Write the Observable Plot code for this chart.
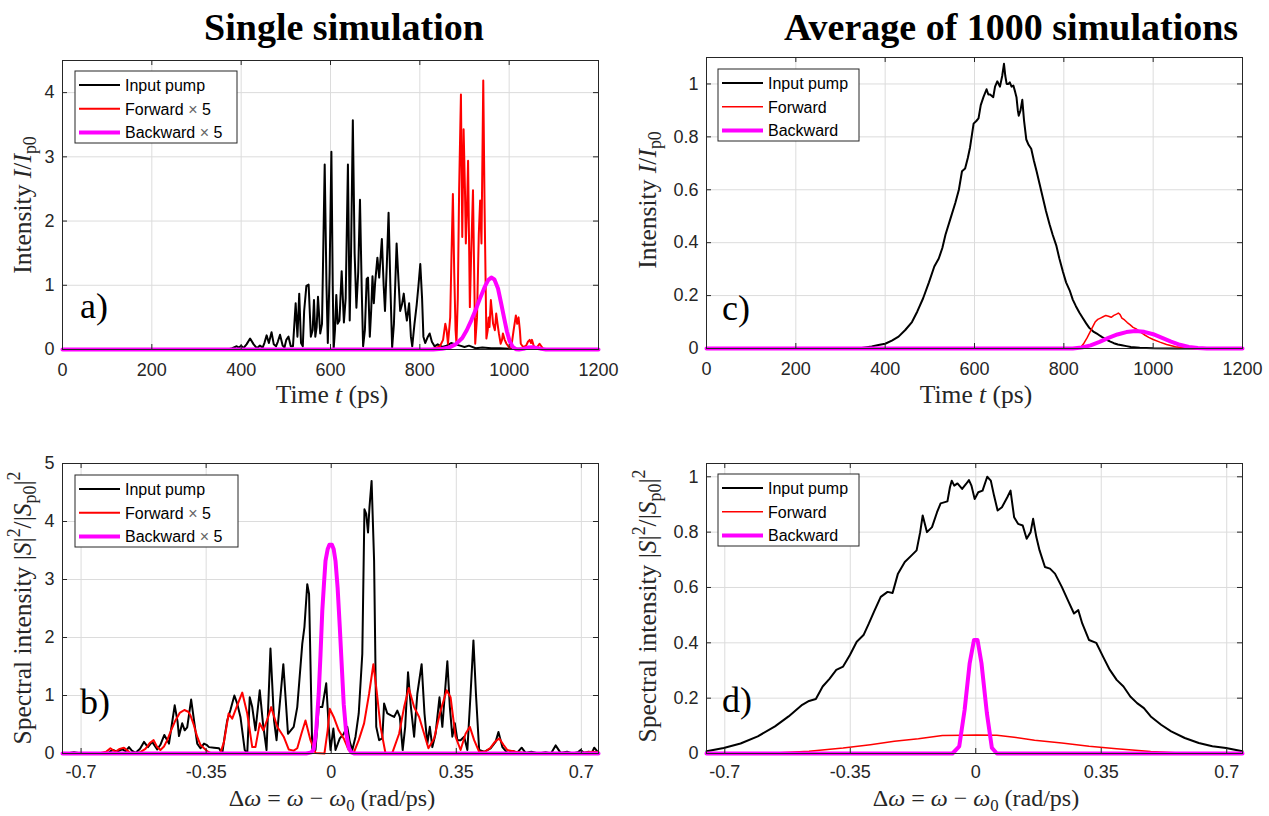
<!DOCTYPE html>
<html><head><meta charset="utf-8">
<script src="https://cdn.jsdelivr.net/npm/d3@7"></script>
<script src="https://cdn.jsdelivr.net/npm/@observablehq/plot@0.6"></script>
<style>
html,body{margin:0;padding:0;background:#fff;}
#root{position:relative;width:1269px;height:816px;overflow:hidden;background:#fff;}
</style></head><body><div id="root"></div>
<script>
// ---------- DATA ----------
const timeTicks = [0, 200, 400, 600, 800, 1000, 1200];
const freqTicks = [-0.7, -0.35, 0, 0.35, 0.7];
const intensityTicksA = [0, 1, 2, 3, 4];
const spectralTicksB = [0, 1, 2, 3, 4, 5];
const unitTicks = [0, 0.2, 0.4, 0.6, 0.8, 1];

// Panel a: single simulation, time domain  [t (ps), I/Ip0]
const pumpA = [[0,0],[370,0],[380,0.02],[390,0.05],[395,0.03],[400,0.06],[405,0.02],[412,0.08],[420,0.17],[428,0.08],[435,0.02],[442,0.06],[448,0.03],[452,0.1],[457,0.22],[462,0.1],[468,0.27],[473,0.08],[478,0.05],[482,0.12],[487,0.23],[493,0.06],[497,0.03],[501,0.15],[506,0.2],[511,0.05],[516,0.05],[522,0.72],[526,0.2],[530,0.87],[534,0.1],[538,0.05],[541,0.6],[546,0.99],[551,1.01],[556,0.2],[560,0.3],[563,0.77],[566,0.2],[569,0.35],[572,0.82],[577,0.25],[581,0.4],[587,2.88],[591,1.0],[594,0.1],[598,1.2],[602,3.08],[605,1.0],[607,0.0],[610,0.3],[613,0.85],[616,0.4],[620,0.45],[625,1.22],[630,0.42],[634,0.8],[639,2.88],[643,0.45],[646,1.5],[650,3.57],[654,1.5],[658,0.65],[662,1.2],[666,2.33],[670,0.9],[673,0.05],[677,0.3],[681,1.1],[684,1.12],[688,0.2],[691,0.6],[694,1.14],[697,0.72],[700,1.05],[705,1.43],[709,1.12],[715,1.72],[719,1.0],[722,0.6],[726,1.3],[730,2.13],[734,1.0],[738,0.03],[742,0.4],[748,1.65],[752,1.1],[756,0.6],[760,0.7],[764,0.87],[768,0.6],[771,0.45],[776,0.72],[780,0.2],[783,0.05],[788,0.4],[793,0.7],[797,1.0],[801,1.33],[805,0.8],[808,0.2],[812,0.1],[818,0.2],[822,0.25],[827,0.12],[833,0.05],[840,0.08],[850,0.04],[860,0.06],[870,0.1],[880,0.08],[890,0.06],[900,0.04],[910,0.06],[925,0.02],[940,0.03],[960,0.02],[980,0.02],[1000,0.01],[1050,0.01],[1100,0],[1200,0]];
const forwardA = [[0,0],[820,0],[835,0.02],[845,0.05],[852,0.15],[857,0.4],[860,0.3],[863,0.09],[868,0.5],[871,1.5],[874,2.42],[877,1.2],[880,0.3],[882,0.09],[885,0.8],[888,2.5],[892,3.97],[895,1.75],[898,3.43],[901,2.5],[903,1.65],[906,2.3],[908,2.94],[910,1.8],[912,0.66],[915,1.5],[919,2.48],[921,1.5],[924,0.09],[928,0.5],[932,1.8],[935,2.32],[938,1.65],[942,4.19],[945,2.2],[949,0.17],[952,0.3],[954,0.5],[956,0.35],[959,0.77],[962,0.55],[964,0.4],[968,0.3],[971,0.56],[974,0.4],[977,0.25],[981,0.09],[984,0.15],[986,0.25],[990,0.15],[994,0.09],[998,0.05],[1001,0.02],[1006,0.1],[1010,0.3],[1015,0.53],[1018,0.4],[1021,0.5],[1024,0.3],[1026,0.09],[1030,0.05],[1033,0.04],[1038,0.06],[1042,0.12],[1046,0.15],[1049,0.1],[1051,0.15],[1054,0.08],[1057,0.02],[1062,0.03],[1068,0.09],[1072,0.05],[1076,0.01],[1085,0],[1200,0]];
const backwardA = [[0,0],[830,0],[850,0.01],[865,0.03],[880,0.08],[895,0.18],[905,0.3],[915,0.45],[925,0.62],[935,0.8],[945,0.97],[953,1.08],[960,1.12],[967,1.09],[975,0.95],[982,0.72],[989,0.48],[995,0.28],[1001,0.13],[1008,0.04],[1015,0.005],[1022,0],[1032,0.01],[1042,0.03],[1052,0.035],[1062,0.025],[1072,0.01],[1082,0],[1200,0]];

// Panel b: single simulation, spectrum  [dw (rad/ps), |S|^2/|Sp0|^2]
const pumpB = [[-0.752,0.01],[-0.74,0.0],[-0.72,0.02],[-0.7,0.0],[-0.68,0.01],[-0.66,0.0],[-0.64,0.01],[-0.625,0.0],[-0.618,0.04],[-0.609,0.06],[-0.6,0.03],[-0.585,0.07],[-0.575,0.04],[-0.566,0.11],[-0.558,0.05],[-0.548,0.01],[-0.535,0.08],[-0.524,0.2],[-0.513,0.11],[-0.501,0.2],[-0.487,0.07],[-0.478,0.15],[-0.467,0.32],[-0.454,0.17],[-0.446,0.5],[-0.438,0.83],[-0.43,0.55],[-0.426,0.3],[-0.417,0.52],[-0.41,0.4],[-0.403,0.45],[-0.392,0.93],[-0.384,0.57],[-0.375,0.17],[-0.366,0.09],[-0.356,0.17],[-0.349,0.15],[-0.342,0.11],[-0.328,0.1],[-0.314,0.09],[-0.305,0.0],[-0.298,0.3],[-0.291,0.57],[-0.282,0.75],[-0.271,1.0],[-0.263,0.86],[-0.254,0.63],[-0.242,0.06],[-0.235,0.0],[-0.228,0.97],[-0.221,0.8],[-0.212,0.4],[-0.2,1.09],[-0.191,0.52],[-0.181,0.06],[-0.17,1.81],[-0.16,0.57],[-0.153,0.23],[-0.134,1.54],[-0.121,0.34],[-0.105,0.46],[-0.095,0.8],[-0.081,1.89],[-0.075,2.18],[-0.067,2.92],[-0.062,2.75],[-0.053,0.06],[-0.044,0.06],[-0.035,0.8],[-0.025,0.8],[-0.014,1.21],[-0.007,0.46],[-0.002,0.06],[0.006,0.43],[0.012,0.06],[0.024,0.26],[0.035,0.34],[0.045,0.46],[0.052,0.2],[0.059,0.06],[0.068,0.29],[0.077,0.69],[0.087,1.72],[0.093,4.21],[0.098,4.13],[0.103,3.81],[0.107,4.24],[0.113,4.7],[0.12,3.32],[0.126,0.46],[0.134,0.23],[0.143,0.26],[0.148,0.86],[0.157,0.69],[0.166,0.66],[0.176,0.63],[0.185,0.74],[0.192,0.63],[0.2,0.06],[0.207,0.46],[0.215,1.4],[0.222,0.86],[0.232,0.29],[0.241,1.03],[0.253,1.54],[0.261,0.69],[0.269,0.17],[0.276,0.46],[0.283,0.11],[0.292,0.34],[0.303,0.97],[0.311,0.46],[0.318,1.03],[0.325,1.59],[0.332,0.8],[0.339,0.29],[0.346,0.52],[0.353,0.23],[0.362,0.23],[0.372,0.29],[0.381,0.06],[0.39,1.03],[0.398,1.95],[0.405,1.03],[0.414,0.06],[0.428,0.03],[0.446,0.09],[0.46,0.2],[0.468,0.37],[0.479,0.11],[0.493,0.01],[0.51,0.04],[0.52,0.01],[0.533,0.1],[0.544,0.01],[0.56,0.03],[0.58,0.0],[0.6,0.02],[0.615,0.0],[0.628,0.14],[0.642,0.01],[0.66,0.03],[0.675,0.0],[0.69,0.02],[0.698,0.06],[0.708,0.01],[0.72,0.03],[0.73,0.02],[0.736,0.1],[0.748,0.01]];
const forwardB = [[-0.752,0],[-0.65,0],[-0.63,0.03],[-0.618,0.09],[-0.604,0.03],[-0.592,0.08],[-0.58,0.1],[-0.57,0.05],[-0.562,0.01],[-0.538,0.01],[-0.52,0.08],[-0.508,0.18],[-0.497,0.23],[-0.488,0.12],[-0.478,0.06],[-0.468,0.12],[-0.459,0.23],[-0.448,0.4],[-0.436,0.57],[-0.424,0.7],[-0.411,0.75],[-0.4,0.72],[-0.394,0.66],[-0.385,0.5],[-0.375,0.29],[-0.366,0.15],[-0.356,0.09],[-0.345,0.03],[-0.338,0.01],[-0.31,0.01],[-0.3,0.2],[-0.287,0.69],[-0.277,0.6],[-0.263,0.83],[-0.249,1.05],[-0.235,0.69],[-0.221,0.11],[-0.212,0.11],[-0.2,0.52],[-0.19,0.4],[-0.178,0.6],[-0.168,0.8],[-0.151,0.46],[-0.133,0.29],[-0.119,0.07],[-0.105,0.05],[-0.095,0.09],[-0.083,0.35],[-0.072,0.57],[-0.058,0.23],[-0.044,0.01],[-0.019,0],[-0.01,0.4],[-0.004,0.77],[0.007,0.63],[0.021,0.4],[0.035,0.26],[0.049,0.06],[0.063,0.01],[0.077,0.23],[0.092,0.52],[0.106,1.03],[0.118,1.54],[0.127,1.09],[0.138,0.46],[0.152,0],[0.171,0.01],[0.19,0.34],[0.204,0.8],[0.217,1.13],[0.232,0.8],[0.246,0.63],[0.26,0.34],[0.272,0.09],[0.288,0.26],[0.304,0.69],[0.323,1.09],[0.334,0.97],[0.348,0.29],[0.362,0.06],[0.376,0.34],[0.388,0.46],[0.4,0.23],[0.414,0.03],[0.43,0.03],[0.446,0.1],[0.458,0.2],[0.47,0.26],[0.482,0.15],[0.493,0.06],[0.516,0.03],[0.54,0.01],[0.6,0.0],[0.7,0.01],[0.73,0.03],[0.748,0.02]];
const backwardB = [[-0.752,0],[-0.07,0],[-0.055,0.02],[-0.049,0.08],[-0.042,0.4],[-0.035,1.03],[-0.03,1.7],[-0.025,2.46],[-0.02,2.95],[-0.016,3.32],[-0.01,3.52],[-0.005,3.6],[0.002,3.6],[0.007,3.52],[0.012,3.32],[0.018,2.85],[0.024,2.18],[0.03,1.45],[0.035,0.85],[0.042,0.35],[0.049,0.1],[0.056,0.02],[0.065,0],[0.748,0]];

// Panel c: average of 1000 simulations, time domain
const pumpC = [[0,0],[340,0],[355,0.004],[370,0.008],[385,0.013],[400,0.018],[415,0.03],[430,0.045],[445,0.07],[460,0.1],[472,0.14],[485,0.19],[498,0.25],[510,0.31],[520,0.34],[528,0.38],[535,0.43],[546,0.49],[557,0.55],[565,0.6],[572,0.67],[579,0.68],[585,0.72],[590,0.76],[598,0.85],[604,0.86],[609,0.87],[614,0.92],[620,0.95],[627,0.98],[631,0.96],[635,0.96],[642,0.95],[646,0.99],[651,1.01],[657,0.99],[662,1.03],[666,1.076],[669,1.03],[672,1.0],[676,1.0],[679,1.006],[683,0.99],[687,0.994],[691,0.97],[694,0.95],[697,0.9],[699,0.88],[703,0.9],[707,0.94],[711,0.86],[716,0.79],[721,0.77],[727,0.755],[733,0.71],[739,0.67],[746,0.62],[753,0.57],[760,0.52],[768,0.47],[775,0.43],[783,0.39],[790,0.34],[798,0.29],[805,0.25],[813,0.22],[820,0.185],[827,0.16],[835,0.135],[842,0.116],[850,0.095],[857,0.078],[866,0.064],[876,0.054],[885,0.044],[894,0.035],[903,0.027],[912,0.02],[921,0.015],[930,0.012],[940,0.009],[950,0.006],[970,0.003],[1000,0.001],[1050,0],[1200,0]];
const forwardC = [[0,0],[830,0],[838,0.005],[845,0.02],[852,0.04],[858,0.06],[864,0.08],[870,0.1],[876,0.11],[882,0.115],[888,0.12],[894,0.125],[900,0.122],[906,0.118],[912,0.125],[918,0.13],[922,0.134],[926,0.128],[930,0.115],[936,0.108],[942,0.098],[948,0.09],[955,0.08],[962,0.074],[970,0.064],[980,0.052],[990,0.042],[1000,0.034],[1015,0.024],[1030,0.015],[1050,0.007],[1070,0.002],[1090,0],[1200,0]];
const backwardC = [[0,0],[820,0],[840,0.004],[860,0.012],[880,0.025],[900,0.04],[920,0.053],[940,0.062],[960,0.066],[980,0.063],[1000,0.054],[1020,0.04],[1040,0.026],[1060,0.014],[1080,0.006],[1100,0.002],[1120,0],[1200,0]];

// Panel d: average of 1000 simulations, spectrum
const pumpD = [[-0.751,0.008],[-0.703,0.02],[-0.656,0.036],[-0.608,0.062],[-0.56,0.098],[-0.522,0.134],[-0.484,0.176],[-0.465,0.19],[-0.446,0.197],[-0.427,0.242],[-0.408,0.27],[-0.389,0.302],[-0.37,0.314],[-0.351,0.356],[-0.332,0.404],[-0.313,0.428],[-0.298,0.47],[-0.284,0.512],[-0.265,0.566],[-0.246,0.584],[-0.232,0.58],[-0.217,0.65],[-0.198,0.692],[-0.179,0.716],[-0.165,0.734],[-0.155,0.8],[-0.148,0.86],[-0.136,0.8],[-0.122,0.818],[-0.108,0.872],[-0.098,0.904],[-0.079,0.911],[-0.072,0.962],[-0.067,0.986],[-0.06,0.968],[-0.051,0.976],[-0.038,0.956],[-0.027,0.974],[-0.019,0.988],[-0.012,0.968],[-0.003,0.92],[0.007,0.944],[0.019,0.95],[0.032,1.0],[0.042,0.986],[0.051,0.932],[0.061,0.878],[0.073,0.89],[0.088,0.926],[0.097,0.95],[0.107,0.854],[0.118,0.83],[0.131,0.824],[0.142,0.776],[0.153,0.8],[0.16,0.848],[0.169,0.782],[0.178,0.734],[0.193,0.674],[0.207,0.668],[0.221,0.65],[0.24,0.602],[0.259,0.548],[0.274,0.506],[0.286,0.518],[0.297,0.47],[0.316,0.41],[0.336,0.4],[0.355,0.35],[0.374,0.302],[0.393,0.266],[0.412,0.242],[0.431,0.206],[0.45,0.182],[0.469,0.164],[0.488,0.134],[0.517,0.104],[0.545,0.08],[0.583,0.056],[0.622,0.038],[0.66,0.026],[0.698,0.02],[0.744,0.008]];
const forwardD = [[-0.751,0],[-0.56,0.002],[-0.465,0.008],[-0.37,0.02],[-0.294,0.032],[-0.227,0.044],[-0.16,0.053],[-0.093,0.065],[-0.036,0.066],[0.002,0.067],[0.059,0.066],[0.107,0.059],[0.164,0.048],[0.24,0.038],[0.316,0.026],[0.393,0.017],[0.488,0.007],[0.583,0.001],[0.744,0]];
const backwardD = [[-0.751,0],[-0.065,0],[-0.046,0.026],[-0.031,0.158],[-0.017,0.326],[-0.005,0.41],[0.005,0.41],[0.016,0.326],[0.031,0.146],[0.045,0.02],[0.059,0],[0.744,0]];

// ---------- RENDER ----------
const root = document.getElementById("root");
const SANS = "'Liberation Sans', Arial, Helvetica, sans-serif";
const SERIF = "'Liberation Serif', 'Times New Roman', serif";
const fmtNum = d => String(+d.toFixed(2));

function panel(cfg) {
  const mL = 70, mR = 30, mT = 20, mB = 45;
  const iw = cfg.fx1 - cfg.fx0, ih = cfg.fy1 - cfg.fy0;
  const acc = {x: d => d[0], y: d => d[1]};
  const chart = Plot.plot({
    width: iw + mL + mR, height: ih + mT + mB,
    marginLeft: mL, marginRight: mR, marginTop: mT, marginBottom: mB,
    x: {domain: cfg.xDomain},
    y: {domain: cfg.yDomain},
    style: {fontFamily: SANS, fontSize: "18px", color: "#262626", background: "transparent", overflow: "visible"},
    marks: [
      Plot.ruleX(cfg.xTicks, {stroke: "#dcdcdc", strokeWidth: 1}),
      Plot.ruleY(cfg.yTicks, {stroke: "#dcdcdc", strokeWidth: 1}),
      Plot.line(cfg.pump, {...acc, stroke: "#000000", strokeWidth: cfg.w[0]}),
      Plot.line(cfg.fwd, {...acc, stroke: "#ff0000", strokeWidth: cfg.w[1]}),
      Plot.line(cfg.bwd, {...acc, stroke: "#ff00ff", strokeWidth: cfg.w[2]}),
      Plot.frame({stroke: "#262626", strokeWidth: 1}),
      Plot.ruleX(cfg.xTicks, {stroke: "#262626", insetTop: ih - 5}),
      Plot.ruleX(cfg.xTicks, {stroke: "#262626", insetBottom: ih - 5}),
      Plot.ruleY(cfg.yTicks, {stroke: "#262626", insetRight: iw - 5}),
      Plot.ruleY(cfg.yTicks, {stroke: "#262626", insetLeft: iw - 5}),
      Plot.axisX(cfg.xTicks, {tickSize: 0, tickPadding: cfg.padX, tickFormat: cfg.fmtX, fontSize: 18, label: null}),
      Plot.axisY(cfg.yTicks, {tickSize: 0, tickPadding: 8, tickFormat: cfg.fmtY, fontSize: 18, label: null})
    ]
  });
  chart.style.position = "absolute";
  chart.style.left = (cfg.fx0 - mL) + "px";
  chart.style.top = (cfg.fy0 - mT) + "px";
  root.appendChild(chart);
}

const freqFmt = d => String(d);
panel({fx0: 62, fx1: 598, fy0: 60, fy1: 349, xDomain: [0, 1200], yDomain: [0, 4.5], xTicks: timeTicks, yTicks: intensityTicksA, fmtX: fmtNum, fmtY: fmtNum, padX: 14, pump: pumpA, fwd: forwardA, bwd: backwardA, w: [2, 2, 4]});
panel({fx0: 62, fx1: 598, fy0: 463, fy1: 753, xDomain: [-0.752, 0.748], yDomain: [0, 5], xTicks: freqTicks, yTicks: spectralTicksB, fmtX: freqFmt, fmtY: fmtNum, padX: 12, pump: pumpB, fwd: forwardB, bwd: backwardB, w: [2, 2, 4]});
panel({fx0: 706, fx1: 1242, fy0: 57, fy1: 348, xDomain: [0, 1200], yDomain: [0, 1.1], xTicks: timeTicks, yTicks: unitTicks, fmtX: fmtNum, fmtY: fmtNum, padX: 14, pump: pumpC, fwd: forwardC, bwd: backwardC, w: [2, 1.5, 4]});
panel({fx0: 706, fx1: 1242, fy0: 463, fy1: 753, xDomain: [-0.751, 0.744], yDomain: [0, 1.048], xTicks: freqTicks, yTicks: unitTicks, fmtX: freqFmt, fmtY: fmtNum, padX: 12, pump: pumpD, fwd: forwardD, bwd: backwardD, w: [2, 1.5, 4]});

// ---------- OVERLAY TEXT ----------
const ov = d3.select(root).append("svg")
  .attr("width", 1269).attr("height", 816)
  .style("position", "absolute").style("left", "0px").style("top", "0px");

function rich(g, x, y, parts, o = {}) {
  const size = o.size || 24;
  const t = g.append("text")
    .attr("transform", `translate(${x},${y}) rotate(${o.rotate || 0})`)
    .attr("text-anchor", o.anchor || "middle")
    .attr("font-family", o.family || SERIF)
    .attr("font-size", size)
    .attr("font-weight", o.weight || "normal")
    .attr("fill", o.fill || "#262626");
  if (o.ls) t.attr("letter-spacing", o.ls);
  let shift = 0;
  for (const p of parts) {
    const s = t.append("tspan").text(p.t);
    const target = p.sub ? size * 0.2 : p.sup ? -size * 0.42 : 0;
    const dy = target - shift;
    if (dy) s.attr("dy", dy);
    shift = target;
    if (p.sub || p.sup) s.attr("font-size", size * 0.7);
    if (p.i) s.attr("font-style", "italic");
    if (p.c) s.attr("fill", p.c);
  }
}

function legend(x, y, w, h, entries) {
  const g = ov.append("g");
  g.append("rect").attr("x", x).attr("y", y).attr("width", w).attr("height", h)
    .attr("fill", "#fff").attr("stroke", "#262626").attr("stroke-width", 1);
  entries.forEach((e, i) => {
    const cy = y + 14 + i * 23.7;
    g.append("line").attr("x1", x + 4).attr("x2", x + 45).attr("y1", cy).attr("y2", cy)
      .attr("stroke", e.color).attr("stroke-width", e.w);
    rich(g, x + 50, cy + 5.8, e.parts, {size: 16, anchor: "start", family: SANS, fill: "#000"});
  });
}

// titles
rich(ov, 344, 40, [{t: "Single simulation"}], {size: 38, weight: "bold", fill: "#000"});
rich(ov, 1011, 40, [{t: "Average of 1000 simulations"}], {size: 38, weight: "bold", fill: "#000"});

// axis labels
const LS = 25.5;
const timeLbl = [{t: "Time "}, {t: "t", i: true}, {t: " (ps)"}];
const intLbl = [{t: "Intensity "}, {t: "I", i: true}, {t: "/"}, {t: "I", i: true}, {t: "p0", sub: true}];
const dwLbl = [{t: "Δ"}, {t: "ω", i: true}, {t: " = "}, {t: "ω", i: true}, {t: " − "}, {t: "ω", i: true}, {t: "0", sub: true}, {t: " (rad/ps)"}];
const specLbl = [{t: "Spectral intensity |"}, {t: "S", i: true}, {t: "|"}, {t: "2", sup: true}, {t: "/|"}, {t: "S", i: true}, {t: "p0", sub: true}, {t: "|"}, {t: "2", sup: true}];
rich(ov, 332, 403, timeLbl, {size: LS});
rich(ov, 976, 403, timeLbl, {size: LS});
rich(ov, 332, 806, dwLbl, {size: 24});
rich(ov, 976, 806, dwLbl, {size: 24});
rich(ov, 31, 205, intLbl, {size: LS, rotate: -90});
rich(ov, 656, 200, intLbl, {size: LS, rotate: -90});
rich(ov, 31, 608, specLbl, {size: LS, rotate: -90});
rich(ov, 656, 606, specLbl, {size: LS, rotate: -90});

// panel tags
rich(ov, 80, 318, [{t: "a)"}], {size: 36, anchor: "start", fill: "#000"});
rich(ov, 80, 714, [{t: "b)"}], {size: 36, anchor: "start", fill: "#000"});
rich(ov, 722, 320, [{t: "c)"}], {size: 36, anchor: "start", fill: "#000"});
rich(ov, 722, 712, [{t: "d)"}], {size: 36, anchor: "start", fill: "#000"});

// legends
const x5 = {t: " × ", c: "#666"};
const entriesSingle = [
  {color: "#000", w: 2, parts: [{t: "Input pump"}]},
  {color: "#ff0000", w: 2, parts: [{t: "Forward"}, x5, {t: "5"}]},
  {color: "#ff00ff", w: 4, parts: [{t: "Backward"}, x5, {t: "5"}]}
];
const entriesAvg = [
  {color: "#000", w: 2, parts: [{t: "Input pump"}]},
  {color: "#ff0000", w: 1.5, parts: [{t: "Forward"}]},
  {color: "#ff00ff", w: 4, parts: [{t: "Backward"}]}
];
legend(75, 71, 162, 72, entriesSingle);
legend(75, 475, 163, 72, entriesSingle);
legend(718, 69, 141, 72, entriesAvg);
legend(718, 474, 141, 72, entriesAvg);
</script></body></html>
